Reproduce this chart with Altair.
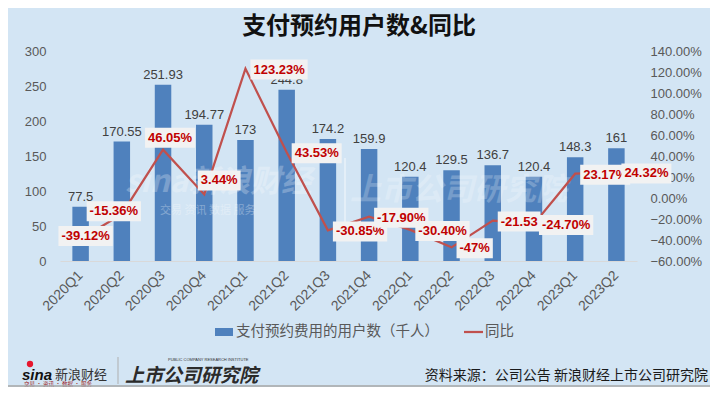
import altair as alt
import pandas as pd

quarters = ["2020Q1", "2020Q2", "2020Q3", "2020Q4", "2021Q1", "2021Q2", "2021Q3",
            "2021Q4", "2022Q1", "2022Q2", "2022Q3", "2022Q4", "2023Q1", "2023Q2"]
users = [77.5, 170.55, 251.93, 194.77, 173, 244.8, 174.2, 159.9, 120.4, 129.5, 136.7, 120.4, 148.3, 161]
bar_labels = ["77.5", "170.55", "251.93", "194.77", "173", "244.8", "174.2", "159.9",
              "120.4", "129.5", "136.7", "120.4", "148.3", "161"]
yoy = [-39.12, -15.36, 46.05, 3.44, 123.23, 43.53, -30.85, -17.90, -30.40, -47, -21.53, -24.70, 23.17, 24.32]
yoy_labels = ["-39.12%", "-15.36%", "46.05%", "3.44%", "123.23%", "43.53%", "-30.85%", "-17.90%",
              "-30.40%", "-47%", "-21.53", "-24.70%", "23.17%", "24.32%"]
left_ticks = [0, 50, 100, 150, 200, 250, 300]
right_ticks = [-60, -40, -20, 0, 20, 40, 60, 80, 100, 120, 140]

title_text = "支付预约用户数&同比"
legend_bar = "支付预约费用的用户数（千人）"
legend_line = "同比"
source_text = "资料来源：公司公告 新浪财经上市公司研究院"

BG = "#D3E5F4"
BLUE = "#4F81BD"
RED_LINE = "#C0504D"
RED_TEXT = "#C00000"
GRAY = "#595959"
CJK = "Noto Sans CJK SC"
LAT = "Liberation Sans"

df = pd.DataFrame({"q": quarters, "users": users, "blab": bar_labels,
                   "yoy": yoy, "ylab": yoy_labels, "idx": list(range(len(quarters)))})
one = pd.DataFrame({"a": [0]})

xscale = alt.Scale(domain=quarters, paddingInner=0.6, paddingOuter=0.3)
x_axis = alt.Axis(labelAngle=-45, labelAlign="right", labelBaseline="middle",
                  labelPadding=12, labelFontSize=14, labelColor=GRAY, labelFont=LAT,
                  ticks=False, domain=True, domainColor="#D9D9D9", domainWidth=1, grid=False)
x_enc = alt.X("q:N", title=None, scale=xscale, axis=x_axis)

lscale = alt.Scale(domain=[0, 300], nice=False, zero=True)
rscale = alt.Scale(domain=[-60, 140], nice=False, zero=False)

y_left = alt.Y("users:Q", title=None, scale=lscale,
               axis=alt.Axis(orient="left", values=left_ticks, domain=False, ticks=False, grid=False,
                             labelFontSize=13, labelColor=GRAY, labelFont=LAT, labelPadding=14))
y_left_plain = alt.Y("users:Q", title=None, scale=lscale, axis=None)

y_right = alt.Y("yoy:Q", title=None, scale=rscale,
                axis=alt.Axis(orient="right", values=right_ticks, domain=False, ticks=False, grid=False,
                              labelExpr="format(datum.value, '.2f') + '%'",
                              labelFontSize=13, labelColor=GRAY, labelFont=LAT, labelPadding=13))
y_right_plain = alt.Y("yoy:Q", title=None, scale=rscale, axis=None)

bars = alt.Chart(df).mark_bar(color=BLUE).encode(x=x_enc, y=y_left)
bar_text = alt.Chart(df).mark_text(baseline="bottom", dy=-3, fontSize=13, color="#404040", font=LAT).encode(
    x=x_enc, y=y_left_plain, text="blab:N")

# watermark
wm1 = alt.Chart(one).mark_text(text="sina新浪财经", font=CJK, fontSize=31, fontWeight="bold",
                               fontStyle="italic", color="white", opacity=0.25, align="left",
                               baseline="middle").encode(x=alt.value(65), y=alt.value(132))
wm2 = alt.Chart(one).mark_text(text="交易    资讯    数据    服务", font=CJK, fontSize=11,
                               color="white", opacity=0.3, align="left",
                               baseline="middle").encode(x=alt.value(100), y=alt.value(160))
wm3 = alt.Chart(one).mark_text(text="上市公司研究院", font=CJK, fontSize=31, fontWeight="bold",
                               fontStyle="italic", color="white", opacity=0.22, align="left",
                               baseline="middle").encode(x=alt.value(290), y=alt.value(140))
wm_rule = alt.Chart(one).mark_rule(color="white", opacity=0.4, strokeWidth=2).encode(
    x=alt.value(285), y=alt.value(107), y2=alt.value(172))

line = alt.Chart(df).mark_line(color=RED_LINE, strokeWidth=2.25).encode(x=x_enc, y=y_right)

placements = [("center", 5, -3), ("center", -8, -3), ("center", 7, -12), ("center", 15, -14)] + \
             [("left", 8, 1)] * 10

w_expr = ("7.2*length(datum.ylab) + (indexof(datum.ylab,'%')>=0 ? 4.4 : 0)"
          " - (indexof(datum.ylab,'.')>=0 ? 3.6 : 0) - (indexof(datum.ylab,'-')>=0 ? 2.9 : 0)")

label_layers = []
for i, (al, dx, dy) in enumerate(placements):
    if al == "center":
        x0 = f"{dx} - datum.w/2 - 3"
        x1 = f"{dx} + datum.w/2 + 3"
    else:
        x0 = f"{dx} - 3"
        x1 = f"{dx} + datum.w + 3"
    base = alt.Chart(df).transform_filter(f"datum.idx == {i}").transform_calculate(
        w=w_expr).transform_calculate(x0=x0, x1=x1).transform_calculate(
        path=f"'M'+datum.x0+',{dy-10}H'+datum.x1+'V{dy+10}H'+datum.x0+'Z'")
    box = base.mark_point(filled=True, fill="#F2F2F2", opacity=1, size=4, strokeWidth=0).encode(
        x=x_enc, y=y_right_plain, shape=alt.Shape("path:N", scale=None, legend=None))
    txt = base.mark_text(align=al, baseline="middle", dx=dx, dy=dy, fontSize=13, fontWeight="bold",
                         color=RED_TEXT, font=LAT).encode(x=x_enc, y=y_right_plain, text="ylab:N")
    label_layers += [box, txt]

# decorations (title, legend, footer)
title = alt.Chart(one).mark_text(text=title_text, font=CJK, fontSize=24, fontWeight="bold",
                                 color="#111111", align="center", baseline="middle").encode(
    x=alt.value(299), y=alt.value(-24))
leg_rect = alt.Chart(one).mark_rect(color=BLUE).encode(
    x=alt.value(155), x2=alt.value(173), y=alt.value(277), y2=alt.value(285))
leg_t1 = alt.Chart(one).mark_text(text=legend_bar, font=CJK, fontSize=14.5, color=GRAY,
                                  align="left", baseline="middle").encode(x=alt.value(176), y=alt.value(281))
leg_line = alt.Chart(one).mark_rule(color=RED_LINE, strokeWidth=2.25).encode(
    x=alt.value(404), x2=alt.value(423), y=alt.value(281))
leg_t2 = alt.Chart(one).mark_text(text=legend_line, font=CJK, fontSize=14.5, color=GRAY,
                                  align="left", baseline="middle").encode(x=alt.value(425), y=alt.value(281))
src = alt.Chart(one).mark_text(text=source_text, font=CJK, fontSize=14, color="#1A1A1A",
                               align="right", baseline="middle").encode(x=alt.value(648), y=alt.value(325))
sina = alt.Chart(one).mark_text(text="sina", font=LAT, fontSize=15, fontWeight="bold", fontStyle="italic",
                                color="#111111", align="left", baseline="middle").encode(
    x=alt.value(-38), y=alt.value(324))
sina_eye = alt.Chart(one).mark_point(filled=True, color="#E6162D", size=40, opacity=1).encode(
    x=alt.value(-30), y=alt.value(313))
xl = alt.Chart(one).mark_text(text="新浪财经", font=CJK, fontSize=13, color="#333333",
                              align="left", baseline="middle").encode(x=alt.value(-5), y=alt.value(324))
xl_small = alt.Chart(one).mark_text(text="交易 · 资讯 · 数据 · 服务", font=CJK, fontSize=5.5,
                                    color="#9E2A2A", align="left", baseline="middle").encode(
    x=alt.value(-36), y=alt.value(333))
sep = alt.Chart(one).mark_rule(color="#AFAFAF", strokeWidth=1).encode(
    x=alt.value(58), y=alt.value(306), y2=alt.value(333))
ss = alt.Chart(one).mark_text(text="上市公司研究院", font=CJK, fontSize=19, fontWeight="bold",
                              fontStyle="italic", color="#2B2B2B", align="left", baseline="middle").encode(
    x=alt.value(65), y=alt.value(325))
ss_small = alt.Chart(one).mark_text(text="PUBLIC COMPANY RESEARCH INSTITUTE", font=LAT, fontSize=4,
                                    color="#333333", align="left", baseline="middle").encode(
    x=alt.value(108), y=alt.value(309))
bottom_rule = alt.Chart(one).mark_rule(color="#A6A6A6", strokeWidth=1.5).encode(
    x=alt.value(-52), x2=alt.value(651), y=alt.value(335))

chart = alt.layer(bars, bar_text, wm1, wm2, wm3, wm_rule, line, *label_layers,
                  title, leg_rect, leg_t1, leg_line, leg_t2, src, sina, sina_eye, xl, xl_small,
                  sep, ss, ss_small, bottom_rule).resolve_scale(y="independent").properties(
    width=577, height=210,
    padding={"left": 52, "top": 43, "right": 73, "bottom": 126},
    autosize=alt.AutoSizeParams(type="none"),
    background=BG,
).configure_view(stroke=None)

chart.save("out.html", embed_options={"renderer": "svg", "actions": False})
